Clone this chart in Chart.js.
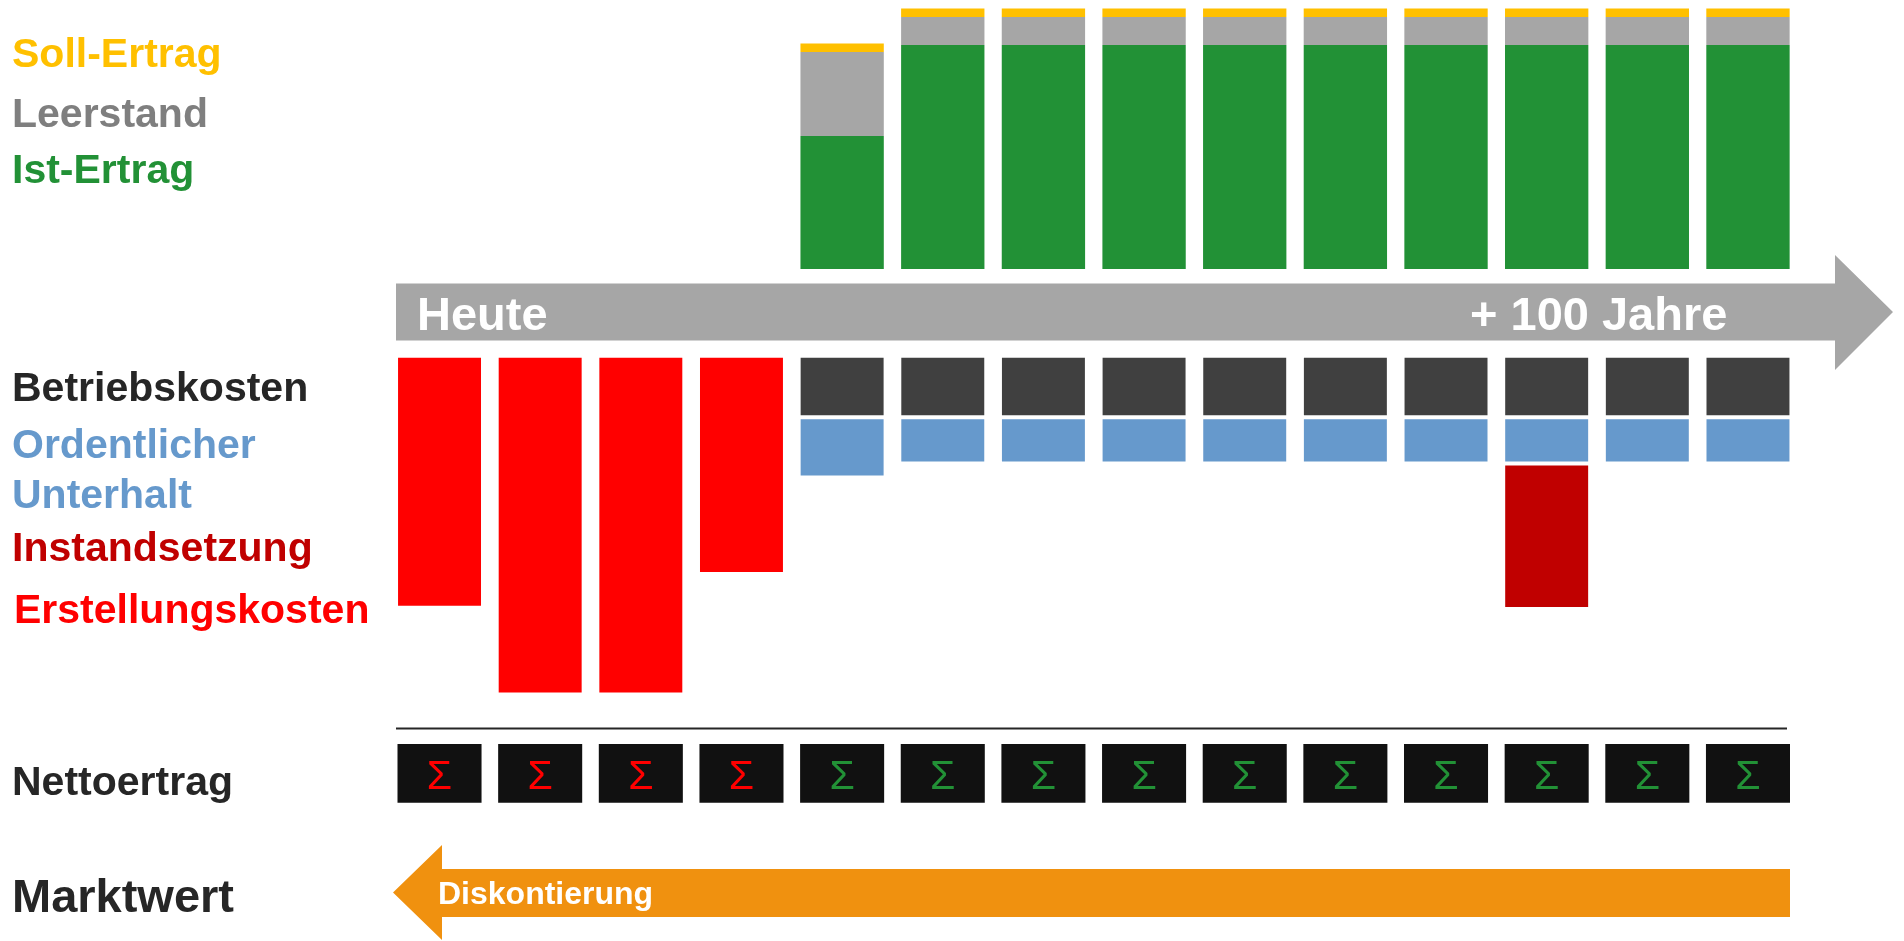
<!DOCTYPE html>
<html lang="de">
<head>
  <meta charset="UTF-8">
  <title>Ertragswert – Schema</title>
  <script src="https://cdn.jsdelivr.net/npm/chart.js"></script>
  <style>
    html, body { margin: 0; padding: 0; background: #fff; overflow: hidden; }
    canvas { display: block; }
  </style>
</head>
<body>
  <canvas id="schema" width="1904" height="941"></canvas>

  <script>
    // Jahre / Perioden (14 Spalten)
    const jahre = ['1', '2', '3', '4', '5', '6', '7', '8', '9', '10', '11', '12', '13', '14'];

    // Erträge (oberhalb des Zeitpfeils)
    const istErtrag   = [null, null, null, null, 47.5, 80, 80, 80, 80, 80, 80, 80, 80, 80];
    const leerstand   = [null, null, null, null, 30, 10, 10, 10, 10, 10, 10, 10, 10, 10];
    const sollErtrag  = [null, null, null, null, 3, 3, 3, 3, 3, 3, 3, 3, 3, 3]; // Soll-Linie oben

    // Kosten (unterhalb des Zeitpfeils, als Beträge)
    const betriebskosten    = [null, null, null, null, 22, 22, 22, 22, 22, 22, 22, 22, 22, 22];
    const unterhalt         = [null, null, null, null, 21.5, 16.5, 16.5, 16.5, 16.5, 16.5, 16.5, 16.5, 16.5, 16.5];
    const instandsetzung    = [null, null, null, null, null, null, null, null, null, null, null, 52, null, null];
    const erstellungskosten = [90, 121, 121, 78, null, null, null, null, null, null, null, null, null, null];

    // Vorzeichen Nettoertrag je Periode
    const nettoVorzeichen = [-1, -1, -1, -1, 1, 1, 1, 1, 1, 1, 1, 1, 1, 1];

    const H = 941;
    const FONT = '"Liberation Sans", Arial, sans-serif';

    // Achse so legen, dass die Nulllinie auf nullPx liegt
    function achse(nullPx, pxProEinheit) {
      return {
        display: false,
        stacked: true,
        min: -(H - nullPx) / pxProEinheit,
        max: nullPx / pxProEinheit
      };
    }

    const neg = arr => arr.map(v => v == null ? null : -v);

    const kostenBar = {
      yAxisID: 'yKosten',
      grouped: false,
      barPercentage: 0.864,
      categoryPercentage: 1,
      borderWidth: 2,
      borderColor: '#ffffff',
      borderSkipped: false
    };

    const ertragBar = {
      yAxisID: 'yErtrag',
      grouped: false,
      barPercentage: 0.828,
      categoryPercentage: 1,
      borderWidth: 0
    };

    // Pfeile, Linie, Beschriftungen
    const schemaPlugin = {
      id: 'schema',
      beforeDatasetsDraw(chart) {
        const ctx = chart.ctx;
        ctx.save();

        // Zeitpfeil
        ctx.fillStyle = '#a6a6a6';
        ctx.beginPath();
        ctx.moveTo(396, 283.5);
        ctx.lineTo(1835, 283.5);
        ctx.lineTo(1835, 255);
        ctx.lineTo(1893, 312);
        ctx.lineTo(1835, 370);
        ctx.lineTo(1835, 340.5);
        ctx.lineTo(396, 340.5);
        ctx.closePath();
        ctx.fill();

        // Summenlinie
        ctx.fillStyle = '#262626';
        ctx.fillRect(396, 727.5, 1391, 2);

        // Diskontierungspfeil
        ctx.fillStyle = '#f0910f';
        ctx.beginPath();
        ctx.moveTo(393, 892.5);
        ctx.lineTo(442, 845);
        ctx.lineTo(442, 869);
        ctx.lineTo(1790, 869);
        ctx.lineTo(1790, 917);
        ctx.lineTo(442, 917);
        ctx.lineTo(442, 940);
        ctx.closePath();
        ctx.fill();

        ctx.restore();
      },
      afterDatasetsDraw(chart) {
        const ctx = chart.ctx;
        ctx.save();
        ctx.textBaseline = 'alphabetic';
        ctx.textAlign = 'left';

        const labels = [
          ['Soll-Ertrag', 12, 66.7, '#ffc000', 41],
          ['Leerstand', 12, 126.7, '#7f7f7f', 41],
          ['Ist-Ertrag', 12, 183.3, '#229136', 41],
          ['Betriebskosten', 12, 401, '#262626', 41],
          ['Ordentlicher', 12, 458.3, '#6699cc', 41],
          ['Unterhalt', 12, 507.7, '#6699cc', 41],
          ['Instandsetzung', 12, 560.7, '#c00000', 41],
          ['Erstellungskosten', 14, 622.7, '#ff0000', 41],
          ['Nettoertrag', 12, 795, '#262626', 41],
          ['Marktwert', 12, 912.3, '#262626', 47],
          ['Heute', 417, 330, '#ffffff', 47],
          ['+ 100 Jahre', 1470, 330, '#ffffff', 47],
          ['Diskontierung', 438, 904, '#ffffff', 32]
        ];
        labels.forEach(([text, x, y, color, size]) => {
          ctx.font = 'bold ' + size + 'px ' + FONT;
          ctx.fillStyle = color;
          ctx.fillText(text, x, y);
        });

        // Summenzeichen in den Nettoertrag-Feldern
        const meta = chart.getDatasetMeta(chart.data.datasets.length - 1);
        ctx.font = '41px ' + FONT;
        ctx.textAlign = 'center';
        meta.data.forEach((bar, i) => {
          ctx.fillStyle = nettoVorzeichen[i] < 0 ? '#ff0000' : '#229136';
          ctx.fillText('\u03A3', bar.x, bar.base - 14);
        });

        ctx.restore();
      }
    };

    new Chart(document.getElementById('schema'), {
      type: 'bar',
      data: {
        labels: jahre,
        datasets: [
          { ...ertragBar, label: 'Ist-Ertrag', data: istErtrag, backgroundColor: '#229136' },
          { ...ertragBar, label: 'Leerstand', data: leerstand, backgroundColor: '#a6a6a6' },
          { ...ertragBar, label: 'Soll-Ertrag', data: sollErtrag, backgroundColor: '#ffc000' },
          { ...kostenBar, label: 'Betriebskosten', data: neg(betriebskosten), backgroundColor: '#404040' },
          { ...kostenBar, label: 'Ordentlicher Unterhalt', data: neg(unterhalt), backgroundColor: '#6699cc' },
          { ...kostenBar, label: 'Instandsetzung', data: neg(instandsetzung), backgroundColor: '#c00000' },
          { ...kostenBar, label: 'Erstellungskosten', data: neg(erstellungskosten), backgroundColor: '#ff0000' },
          {
            label: 'Nettoertrag',
            yAxisID: 'yNetto',
            grouped: false,
            barPercentage: 0.835,
            categoryPercentage: 1,
            borderWidth: 0,
            data: nettoVorzeichen.map(() => [0, 1]),
            backgroundColor: '#111111'
          }
        ]
      },
      options: {
        responsive: false,
        devicePixelRatio: 1,
        animation: false,
        events: [],
        layout: { padding: { left: 389.2, right: 105.7, top: 0, bottom: 0 } },
        plugins: {
          legend: { display: false },
          tooltip: { enabled: false }
        },
        scales: {
          x: { display: false, stacked: true },
          yErtrag: achse(269, 2.8),
          yKosten: achse(355.7, 2.8),
          yNetto: achse(802.7, 58.7)
        }
      },
      plugins: [schemaPlugin]
    });
  </script>
</body>
</html>
